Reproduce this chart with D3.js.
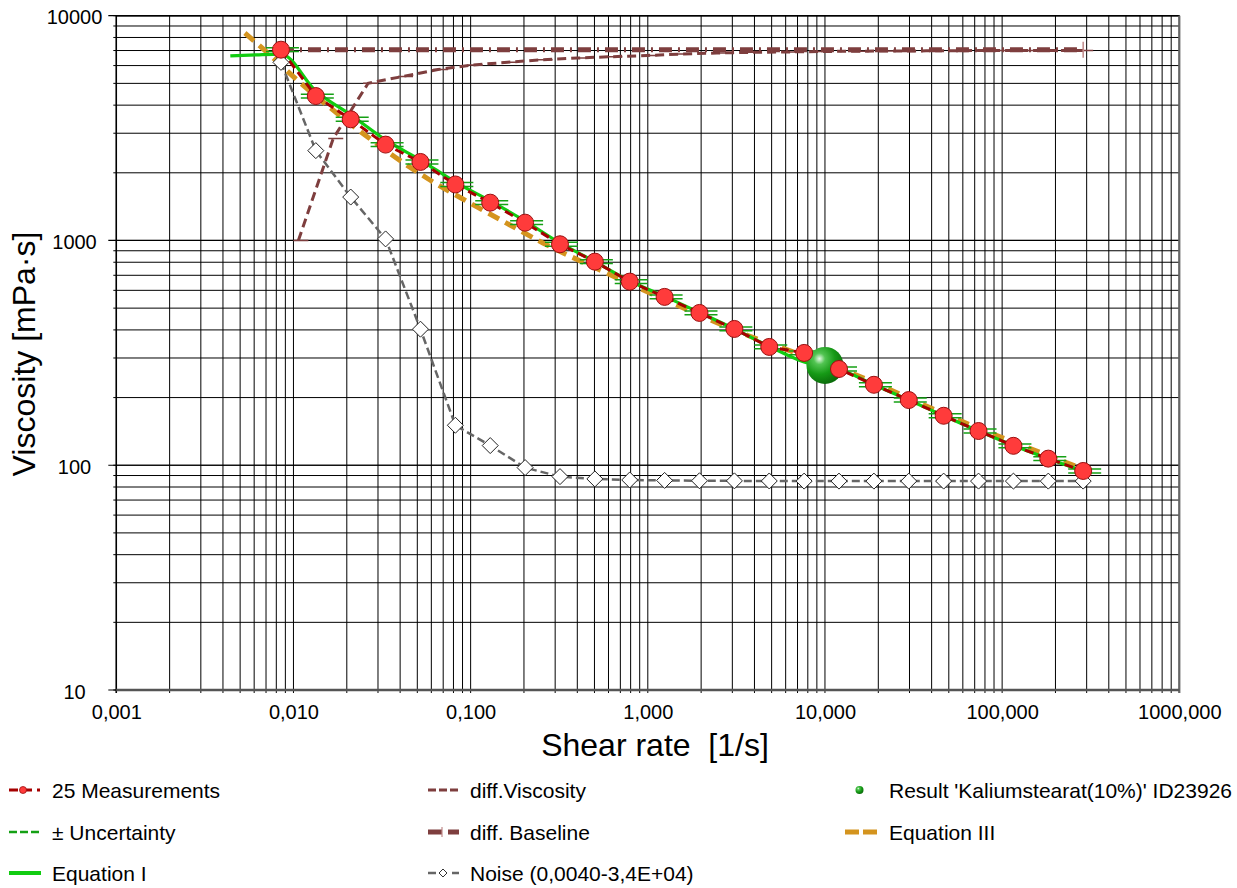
<!DOCTYPE html>
<html><head><meta charset="utf-8">
<script src="https://cdn.jsdelivr.net/npm/d3@7"></script>
<style>
html,body{margin:0;padding:0;background:#fff;}
svg{display:block;font-family:"Liberation Sans",Arial,sans-serif;}
</style></head><body>
<svg id="chart" width="1237" height="888"></svg>
<script>
// ---------------- DATA ----------------
const xTickValues = [0.001, 0.01, 0.1, 1, 10, 100, 1000];
const xTickLabels = ["0,001", "0,010", "0,100", "1,000", "10,000", "100,000", "1000,000"];
const yTickValues = [10, 100, 1000, 10000];
const yTickLabels = ["10", "100", "1000", "10000"];

// 25 Measurements (shear rate [1/s], viscosity [mPa·s])
const measX = [0.0085, 0.01337, 0.02104, 0.03311, 0.0521, 0.08198, 0.129, 0.203, 0.3194, 0.5026, 0.7908, 1.244,
               1.958, 3.081, 4.848, 7.628, 12.0, 18.89, 29.72, 46.77, 73.59, 115.8, 182.2, 286.7];
const measY = [7060, 4390, 3460, 2670, 2235, 1775, 1473, 1200, 962, 805, 656, 561,
               476, 404, 336, 316, 268, 228, 195, 166, 142, 122, 107, 94.3];
const uncertaintyPct = 2;   // ± relative uncertainty

// Equation I
const eqIX = [0.0044, 0.0062, 0.0085, 0.01337, 0.02104, 0.03311, 0.0521, 0.08198, 0.129, 0.203, 0.3194, 0.5026, 0.7908,
              1.244, 1.958, 3.081, 4.848, 7.628, 12.0, 18.89, 29.72, 46.77, 73.59, 115.8, 182.2, 286.7];
const eqIY = [6620, 6700, 6750, 4620, 3620, 2800, 2280, 1820, 1500, 1220, 975, 805, 660,
              564, 478, 404, 338, 288, 268, 228, 195, 166, 142, 122.5, 107, 94.3];

// Equation III
const eqIIIX = [0.00532, 0.00737, 0.01047, 0.01566, 0.02532, 0.0374, 0.0589, 0.0991, 0.1667, 0.2559, 0.5367, 1.028, 3.77, 13.82, 50.7, 300];
const eqIIIY = [8375, 6687, 5176, 3966, 2947, 2351, 1858, 1468, 1172, 975, 739, 584, 375, 259, 165, 95];

// diff. Viscosity
const diffX = [0.01066, 0.01677, 0.02639, 0.04153, 0.06535, 0.1028, 0.1618, 0.2546, 0.4007, 0.6304, 0.992, 1.561,
               2.456, 3.865, 6.081, 9.568, 15.06, 23.69, 37.28, 58.67, 92.32, 145.3, 228.5, 286.7];
const diffY = [1000, 2843, 5003, 5370, 5764, 6036, 6205, 6372, 6484, 6570, 6652, 6756,
               6824, 6873, 6900, 6930, 6950, 6965, 6975, 6990, 7000, 7005, 7010, 7010];

// diff. Baseline
const baseX = [0.0085, 286.7];
const baseY = [7050, 7050];

// Noise
const noiseY = [6200, 2510, 1560, 1016, 403, 150.6, 122.3, 97.6, 89.0, 86.9, 86.0, 85.6,
                85.3, 85.2, 85.1, 85.0, 85.0, 85.0, 85.0, 85.0, 85.0, 85.0, 85.0, 85.0];

// Result point
const resultX = [10];
const resultY = [278];

const legendLabels = ["25 Measurements", "± Uncertainty", "Equation I",
                      "diff.Viscosity", "diff. Baseline", "Noise (0,0040-3,4E+04)",
                      "Result 'Kaliumstearat(10%)' ID23926", "Equation III"];

// ---------------- CHART ----------------
const W = 1237, H = 888;
const plot = {left: 116.3, right: 1179.3, top: 15.7, bottom: 690};
const x = d3.scaleLog().domain([0.001, 1000]).range([plot.left, plot.right]);
const y = d3.scaleLog().domain([10, 10000]).range([plot.bottom, plot.top]);
const svg = d3.select("#chart");
const FONT = "Liberation Sans, Arial, sans-serif";

svg.append("rect").attr("width", W).attr("height", H).attr("fill", "#fff");

const defs = svg.append("defs");
const grad = defs.append("radialGradient").attr("id", "ballGrad")
  .attr("cx", "35%").attr("cy", "32%").attr("r", "70%");
grad.append("stop").attr("offset", "0%").attr("stop-color", "#e6fae6");
grad.append("stop").attr("offset", "22%").attr("stop-color", "#52c452");
grad.append("stop").attr("offset", "60%").attr("stop-color", "#169a16");
grad.append("stop").attr("offset", "100%").attr("stop-color", "#0a6c0a");
defs.append("clipPath").attr("id", "plotClip").append("rect")
  .attr("x", plot.left).attr("y", plot.top)
  .attr("width", plot.right - plot.left).attr("height", plot.bottom - plot.top);

// Vertical grid (all decades' minor ticks), extending below the axis
const gx = svg.append("g").attr("transform", `translate(0,${plot.bottom + 3})`)
  .call(d3.axisBottom(x).tickValues(x.ticks()).tickSize(-(plot.bottom + 3 - plot.top)).tickFormat("").offset(0));
gx.select(".domain").remove();
gx.selectAll("line").attr("stroke", "#000").attr("stroke-width", 1);

// Horizontal grid (minor)
const gy = svg.append("g").attr("transform", `translate(${plot.left - 3},0)`)
  .call(d3.axisLeft(y).tickValues(y.ticks()).tickSize(-(plot.right - plot.left + 3)).tickFormat("").offset(0));
gy.select(".domain").remove();
gy.selectAll("line").attr("stroke", "#000").attr("stroke-width", 1);

// Horizontal major ticks
const gyM = svg.append("g").attr("transform", `translate(${plot.left - 8},0)`)
  .call(d3.axisLeft(y).tickValues(yTickValues).tickSize(-(plot.right - plot.left + 8)).tickFormat("").offset(0));
gyM.select(".domain").remove();
gyM.selectAll("line").attr("stroke", "#000").attr("stroke-width", 1.2);

// Frame
svg.append("line").attr("x1", plot.left).attr("x2", plot.right).attr("y1", plot.top).attr("y2", plot.top)
  .attr("stroke", "#000").attr("stroke-width", 1.5);
svg.append("line").attr("x1", plot.left).attr("x2", plot.left).attr("y1", plot.top).attr("y2", plot.bottom + 3)
  .attr("stroke", "#000").attr("stroke-width", 1.5);
svg.append("line").attr("x1", plot.right).attr("x2", plot.right).attr("y1", plot.top).attr("y2", plot.bottom + 3)
  .attr("stroke", "#666").attr("stroke-width", 2.2);
svg.append("line").attr("x1", plot.left).attr("x2", plot.right).attr("y1", plot.bottom).attr("y2", plot.bottom)
  .attr("stroke", "#555").attr("stroke-width", 2.5);

// Tick labels
const xl = svg.append("g").attr("transform", `translate(0,${plot.bottom})`)
  .call(d3.axisBottom(x).tickValues(xTickValues).tickFormat((d, i) => xTickLabels[i]).tickSize(0));
xl.select(".domain").remove();
xl.attr("font-family", FONT).attr("font-size", 20);
xl.selectAll("text").attr("dy", null).attr("y", 29).attr("fill", "#000");

const yl = svg.append("g").attr("transform", `translate(${plot.left},0)`)
  .call(d3.axisLeft(y).tickValues(yTickValues).tickFormat((d, i) => yTickLabels[i]).tickSize(0));
yl.select(".domain").remove();
yl.attr("font-family", FONT).attr("font-size", 20);
yl.selectAll("text").attr("dy", null).attr("y", 8).attr("x", 74.5 - plot.left)
  .attr("text-anchor", "middle").attr("fill", "#000");

// Axis titles
svg.append("text").attr("x", 655).attr("y", 756).attr("text-anchor", "middle")
  .attr("font-family", FONT).attr("font-size", 32).style("white-space", "pre")
  .text("Shear rate  [1/s]");
svg.append("text").attr("transform", "translate(35,354) rotate(-90)").attr("text-anchor", "middle")
  .attr("font-family", FONT).attr("font-size", 32)
  .text("Viscosity [mPa·s]");

// ---------------- SERIES ----------------
const line = d3.line().x(d => x(d[0])).y(d => y(d[1]));
const plotG = svg.append("g").attr("clip-path", "url(#plotClip)");

const C = {
  meas: "#a50000", measFill: "#ff3b3b", measStroke: "#9b1010",
  unc: "#14a014", eqI: "#11cc11", eqIII: "#d4941e",
  diff: "#7e3e3e", base: "#7e3e3e", noise: "#666666"
};

// Noise
const noiseData = d3.zip(measX, noiseY);
plotG.append("path").datum(noiseData).attr("d", line).attr("fill", "none")
  .attr("stroke", C.noise).attr("stroke-width", 2.5).attr("stroke-dasharray", "8,4");

// diff. Viscosity
const diffData = d3.zip(diffX, diffY);
plotG.append("path").datum(diffData).attr("d", line).attr("fill", "none")
  .attr("stroke", C.diff).attr("stroke-width", 3).attr("stroke-dasharray", "9,5");
plotG.selectAll(".dvm").data(diffData).join("line")
  .attr("x1", d => x(d[0]) - 5).attr("x2", d => x(d[0]) + 10)
  .attr("y1", d => y(d[1])).attr("y2", d => y(d[1]))
  .attr("stroke", C.diff).attr("stroke-width", 1.5);

// diff. Baseline
const baseData = d3.zip(baseX, baseY);
plotG.append("path").datum(baseData).attr("d", line).attr("fill", "none")
  .attr("stroke", C.base).attr("stroke-width", 5).attr("stroke-dasharray", "13,6,2,6");
plotG.append("line")
  .attr("x1", x(baseX[1])).attr("x2", x(baseX[1]))
  .attr("y1", y(baseY[1]) - 8).attr("y2", y(baseY[1]) + 8)
  .attr("stroke", "#c08a8a").attr("stroke-width", 1.5);

// Equation III
plotG.append("path").datum(d3.zip(eqIIIX, eqIIIY)).attr("d", line.curve(d3.curveMonotoneX)).attr("fill", "none")
  .attr("stroke", C.eqIII).attr("stroke-width", 5).attr("stroke-dasharray", "12,7");
line.curve(d3.curveLinear);

// Equation I
plotG.append("path").datum(d3.zip(eqIX, eqIY)).attr("d", line.curve(d3.curveMonotoneX)).attr("fill", "none")
  .attr("stroke", C.eqI).attr("stroke-width", 3.2);
line.curve(d3.curveLinear);

// ± Uncertainty caps
const measData = d3.zip(measX, measY);
const f = 1 + uncertaintyPct / 100;
[f, 1 / f].forEach(k => {
  plotG.selectAll(null).data(measData).join("line")
    .attr("x1", d => x(d[0]) - 15).attr("x2", d => x(d[0]) + 18)
    .attr("y1", d => y(d[1] * k)).attr("y2", d => y(d[1] * k))
    .attr("stroke", C.unc).attr("stroke-width", 1.5);
});

// Measurement line
plotG.append("path").datum(measData).attr("d", line).attr("fill", "none")
  .attr("stroke", C.meas).attr("stroke-width", 3).attr("stroke-dasharray", "9,5");

// Noise diamonds
plotG.selectAll(".nd").data(noiseData).join("path")
  .attr("d", d => { const cx = x(d[0]), cy = y(d[1]), s = 8;
    return `M${cx},${cy - s}L${cx + s},${cy}L${cx},${cy + s}L${cx - s},${cy}Z`; })
  .attr("fill", "#fff").attr("stroke", "#222").attr("stroke-width", 1);

// Result ball
plotG.selectAll(".res").data(d3.zip(resultX, resultY)).join("circle")
  .attr("cx", d => x(d[0])).attr("cy", d => y(d[1])).attr("r", 18.5)
  .attr("fill", "url(#ballGrad)");

// Measurement circles
plotG.selectAll(".mc").data(measData).join("circle")
  .attr("cx", d => x(d[0])).attr("cy", d => y(d[1])).attr("r", 8.5)
  .attr("fill", C.measFill).attr("stroke", C.measStroke).attr("stroke-width", 1);

// ---------------- LEGEND ----------------
const colSym = [9, 427, 845], colText = [52, 470, 889], rowY = [790, 832, 873];
const lg = svg.append("g").attr("font-family", FONT).attr("font-size", 21);
legendLabels.forEach((lab, i) => {
  const col = Math.floor(i / 3), row = i % 3;
  const sx = colSym[col], cy = rowY[row];
  lg.append("text").attr("x", colText[col]).attr("y", cy + 7.5).attr("fill", "#000").text(lab);
  const g = lg.append("g");
  const seg = (x1, x2, color, w, dash) => g.append("line").attr("x1", x1).attr("x2", x2)
    .attr("y1", cy).attr("y2", cy).attr("stroke", color).attr("stroke-width", w)
    .attr("stroke-dasharray", dash || null);
  switch (i) {
    case 0:
      seg(sx, sx + 31, C.meas, 3, "9,5");
      g.append("circle").attr("cx", sx + 14).attr("cy", cy).attr("r", 3.5)
        .attr("fill", C.measFill).attr("stroke", C.measStroke).attr("stroke-width", 0.8);
      break;
    case 1: seg(sx, sx + 31, C.unc, 2.5, "8,3"); break;
    case 2: seg(sx, sx + 32, C.eqI, 4); break;
    case 3: seg(sx + 1, sx + 32, C.diff, 3, "8,3"); break;
    case 4:
      seg(sx + 1, sx + 32, C.base, 5, "14,6,12");
      g.append("line").attr("x1", sx + 15).attr("x2", sx + 15).attr("y1", cy - 5).attr("y2", cy + 5)
        .attr("stroke", "#c08a8a").attr("stroke-width", 1.2);
      break;
    case 5:
      seg(sx + 1, sx + 32, C.noise, 2.5, "8,16,8");
      g.append("path").attr("d", `M${sx + 16},${cy - 4}L${sx + 20},${cy}L${sx + 16},${cy + 4}L${sx + 12},${cy}Z`)
        .attr("fill", "#fff").attr("stroke", "#333").attr("stroke-width", 1);
      break;
    case 6:
      g.append("circle").attr("cx", sx + 14.5).attr("cy", cy).attr("r", 4).attr("fill", "url(#ballGrad)");
      break;
    case 7: seg(sx, sx + 32, C.eqIII, 5, "14,4"); break;
  }
});
</script></body></html>
